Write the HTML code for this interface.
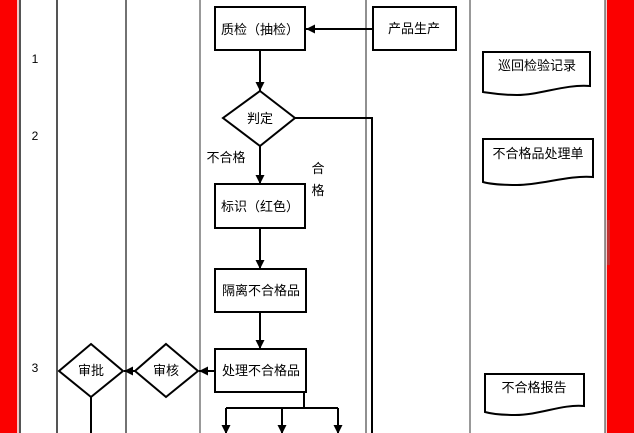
<!DOCTYPE html>
<html><head><meta charset="utf-8"><style>
html,body{margin:0;padding:0;background:#fff;}
svg{display:block;}
text{font-family:"Liberation Sans","Noto Sans CJK SC",sans-serif;font-size:13px;fill:#000;}
</style></head><body>
<svg width="634" height="433" viewBox="0 0 634 433" xmlns="http://www.w3.org/2000/svg">
<defs>
<marker id="ah" markerWidth="10" markerHeight="10" refX="9" refY="5" orient="auto" markerUnits="userSpaceOnUse">
<path d="M0,0.5 L9,5 L0,9.5 Z" fill="#000"/>
</marker>
</defs>
<rect x="0" y="0" width="634" height="433" fill="#fff"/>
<!-- red bands -->
<rect x="0" y="0" width="17" height="433" fill="#fb0000"/>
<rect x="17" y="0" width="2" height="433" fill="#f2c4c4"/>
<rect x="607" y="0" width="27" height="433" fill="#fb0000"/>
<rect x="605" y="0" width="2" height="433" fill="#f0d0d0"/>
<rect x="607" y="220" width="3" height="45" fill="#c03030"/>
<!-- lane lines -->
<line x1="20" y1="0" x2="20" y2="433" stroke="#555" stroke-width="2"/>
<line x1="57" y1="0" x2="57" y2="433" stroke="#555" stroke-width="2"/>
<line x1="126" y1="0" x2="126" y2="433" stroke="#444" stroke-width="1.5"/>
<line x1="200" y1="0" x2="200" y2="433" stroke="#333" stroke-width="1"/>
<line x1="366" y1="0" x2="366" y2="433" stroke="#222" stroke-width="1"/>
<line x1="470" y1="0" x2="470" y2="433" stroke="#333" stroke-width="1"/>
<line x1="605" y1="0" x2="605" y2="433" stroke="#333" stroke-width="1"/>
<!-- row numbers -->
<text x="35" y="63" text-anchor="middle" style="font-size:12px">1</text>
<text x="35" y="140" text-anchor="middle" style="font-size:12px">2</text>
<text x="35" y="372" text-anchor="middle" style="font-size:12px">3</text>

<g stroke="#000" stroke-width="2" fill="none">
<!-- boxes -->
<rect x="215" y="7" width="90" height="43" fill="#fff"/>
<rect x="373" y="7" width="83" height="43" fill="#fff"/>
<rect x="215" y="184" width="90" height="44" fill="#fff"/>
<rect x="215" y="269" width="91" height="43" fill="#fff"/>
<rect x="215" y="349" width="91" height="43" fill="#fff"/>
<!-- diamonds -->
<path d="M260,91 L295,118 L260,146 L223,118 Z" fill="#fff"/>
<path d="M166,344 L198,371 L166,397 L135,371 Z" fill="#fff"/>
<path d="M91,344 L123,371 L91,397 L59,371 Z" fill="#fff"/>
<!-- documents -->
<path d="M483,52 H590 V86 C565,84 540,95 517,95 C500,95 490,93 483,92 Z" fill="#fff"/>
<path d="M483,139 H593 V177 C568,175 542,185 517,185 C500,185 490,184 483,182 Z" fill="#fff"/>
<path d="M485,374 H584 V406 C562,404 540,415 515,415 C500,415 492,414 485,412 Z" fill="#fff"/>
<!-- connectors -->
<line x1="373" y1="29" x2="306" y2="29" marker-end="url(#ah)"/>
<line x1="260" y1="50" x2="260" y2="91" marker-end="url(#ah)"/>
<line x1="260" y1="146" x2="260" y2="184" marker-end="url(#ah)"/>
<polyline points="295,118 372,118 372,433"/>
<line x1="260" y1="228" x2="260" y2="269" marker-end="url(#ah)"/>
<line x1="260" y1="312" x2="260" y2="349" marker-end="url(#ah)"/>
<line x1="215" y1="371" x2="199" y2="371" marker-end="url(#ah)"/>
<line x1="135" y1="371" x2="124" y2="371" marker-end="url(#ah)"/>
<line x1="91" y1="397" x2="91" y2="433"/>
<polyline points="304,392 304,408"/>
<line x1="226" y1="408" x2="338" y2="408"/>
<line x1="226" y1="408" x2="226" y2="434" marker-end="url(#ah)"/>
<line x1="282" y1="408" x2="282" y2="434" marker-end="url(#ah)"/>
<line x1="338" y1="408" x2="338" y2="434" marker-end="url(#ah)"/>
</g>

<!-- labels -->
<text x="260" y="34" text-anchor="middle">质检（抽检）</text>
<text x="414" y="33" text-anchor="middle">产品生产</text>
<text x="260" y="123" text-anchor="middle">判定</text>
<text x="226" y="162" text-anchor="middle">不合格</text>
<text x="318" y="173" text-anchor="middle">合</text>
<text x="318" y="195" text-anchor="middle">格</text>
<text x="260" y="211" text-anchor="middle">标识（红色）</text>
<text x="261" y="295" text-anchor="middle">隔离不合格品</text>
<text x="261" y="375" text-anchor="middle">处理不合格品</text>
<text x="166" y="375" text-anchor="middle">审核</text>
<text x="91" y="375" text-anchor="middle">审批</text>
<text x="537" y="70" text-anchor="middle">巡回检验记录</text>
<text x="538" y="158" text-anchor="middle">不合格品处理单</text>
<text x="534" y="392" text-anchor="middle">不合格报告</text>
</svg>
</body></html>
